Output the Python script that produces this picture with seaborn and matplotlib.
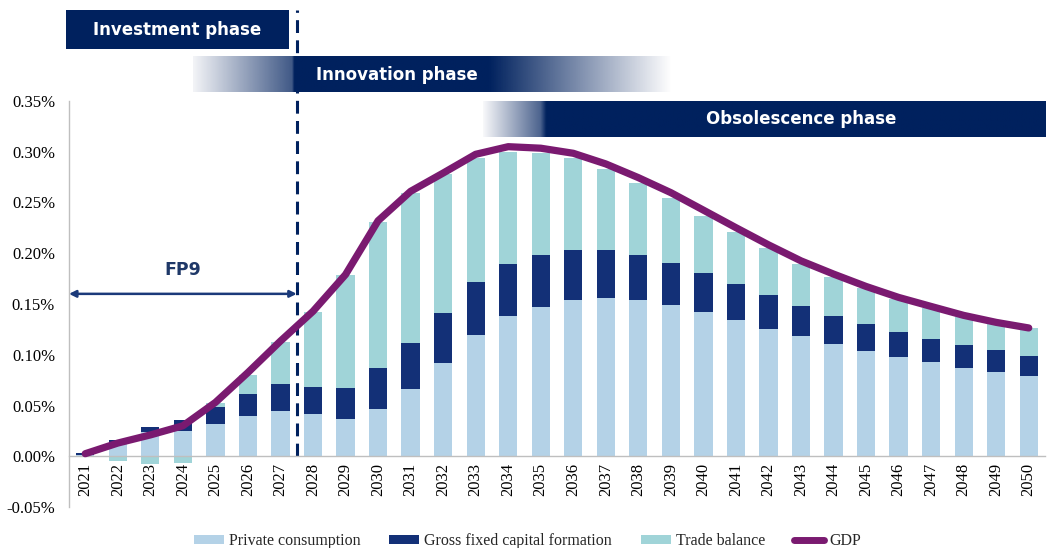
import numpy as np
import pandas as pd
import matplotlib
matplotlib.use("Agg")
import matplotlib.pyplot as plt
import seaborn as sns
from matplotlib.patches import Patch, Rectangle
from matplotlib.lines import Line2D
from matplotlib.ticker import FuncFormatter

# ---------------- data (percent of GDP) ----------------
years = list(range(2021, 2051))
private_consumption = [0.0015, 0.0130, 0.0239, 0.0250, 0.0316, 0.0393, 0.0443, 0.0415, 0.0370, 0.0465,
                       0.0660, 0.0923, 0.1195, 0.1378, 0.1473, 0.1536, 0.1560, 0.1540, 0.1493, 0.1421,
                       0.1339, 0.1257, 0.1182, 0.1107, 0.1041, 0.0975, 0.0926, 0.0871, 0.0828, 0.0789]
gross_fixed_capital_formation = [0.0020, 0.0035, 0.0048, 0.0108, 0.0169, 0.0217, 0.0272, 0.0263, 0.0305, 0.0405,
                                 0.0460, 0.0492, 0.0521, 0.0518, 0.0505, 0.0494, 0.0470, 0.0447, 0.0407, 0.0386,
                                 0.0357, 0.0331, 0.0301, 0.0278, 0.0262, 0.0253, 0.0233, 0.0226, 0.0217, 0.0203]
trade_balance = [0.0000, -0.0046, -0.0075, -0.0068, 0.0035, 0.0195, 0.0410, 0.0742, 0.1115, 0.1440,
                 0.1476, 0.1362, 0.1224, 0.1104, 0.1012, 0.0910, 0.0796, 0.0708, 0.0647, 0.0560,
                 0.0514, 0.0468, 0.0416, 0.0383, 0.0350, 0.0321, 0.0301, 0.0278, 0.0258, 0.0272]
gdp = [0.0025, 0.0130, 0.0210, 0.0300, 0.0530, 0.0825, 0.1135, 0.1428, 0.1790, 0.2320,
       0.2610, 0.2790, 0.2975, 0.3050, 0.3035, 0.2985, 0.2880, 0.2745, 0.2597, 0.2425,
       0.2252, 0.2083, 0.1925, 0.1795, 0.1673, 0.1565, 0.1476, 0.1388, 0.1319, 0.1264]

series_labels = ["Private consumption", "Gross fixed capital formation", "Trade balance", "GDP"]
phase_labels = ["Investment phase", "Innovation phase", "Obsolescence phase"]
fp9_label = "FP9"
fp9_end_year = 2027.5
fp9_level = 0.16
y_ticks = [-0.05, 0.00, 0.05, 0.10, 0.15, 0.20, 0.25, 0.30, 0.35]

# ---------------- style ----------------
c_light = "#B4D2E7"
c_dark = "#133077"
c_teal = "#A0D4D8"
c_gdp = "#7A1A70"
c_navy = "#00215E"
c_arrow = "#1B3A7A"

sns.set_style("white")
plt.rcParams["font.family"] = ["Liberation Serif", "DejaVu Serif"]

fig = plt.figure(figsize=(10.5, 5.48), dpi=100)
ax = fig.add_axes([69 / 1050, 1 - 507 / 548, 976 / 1050, 406 / 548])

pc = np.array(private_consumption)
gf = np.array(gross_fixed_capital_formation)
tb = np.array(trade_balance)
df = pd.DataFrame({
    "year": years,
    "top_tb": np.where(tb >= 0, pc + gf + tb, tb),
    "top_gf": pc + gf,
    "top_pc": pc,
    "gdp": gdp,
})

for col, color in [("top_tb", c_teal), ("top_gf", c_dark), ("top_pc", c_light)]:
    sns.barplot(data=df, x="year", y=col, color=color, native_scale=True, width=0.56,
                saturation=1, errorbar=None, linewidth=0, ax=ax, zorder=2)

sns.lineplot(data=df, x="year", y="gdp", color=c_gdp, linewidth=5.2, ax=ax,
             solid_capstyle="round", zorder=4)

ax.set_xlim(2020.5, 2050.5)
ax.set_ylim(-0.05, 0.35)
ax.set_xticks(years)
ax.set_xticklabels([str(y) for y in years])
ax.set_yticks(y_ticks)
ax.yaxis.set_major_formatter(FuncFormatter(lambda v, p: f"{v:.2f}%"))
ax.set_xlabel("")
ax.set_ylabel("")
ax.tick_params(axis="x", length=0, pad=5, labelrotation=90, labelsize=12, colors="#000000")
ax.tick_params(axis="y", length=0, pad=10, labelsize=12, colors="#000000")
for s in ["top", "right"]:
    ax.spines[s].set_visible(False)
ax.spines["bottom"].set_position(("data", 0))
ax.spines["bottom"].set_color("#BFBFBF")
ax.spines["bottom"].set_linewidth(1.0)
ax.spines["bottom"].set_zorder(3)
ax.spines["left"].set_color("#BFBFBF")
ax.spines["left"].set_linewidth(1.0)
ax.grid(False)

# dashed divider (end of FP9)
ax.plot([fp9_end_year, fp9_end_year], [0, 0.4397], color=c_navy, lw=2.2,
        ls=(0, (4.2, 2.4)), clip_on=False, zorder=3)

# FP9 arrow
ax.annotate("", xy=(2020.5, fp9_level), xytext=(fp9_end_year, fp9_level),
            arrowprops=dict(arrowstyle="<|-|>", color=c_arrow, lw=1.8, mutation_scale=10,
                            shrinkA=0, shrinkB=0), zorder=5)
ax.text((2020.5 + fp9_end_year) / 2, 0.1835, fp9_label, ha="center", va="center",
        fontsize=12.5, fontweight="bold", color="#1F3868", family=["DejaVu Sans"])

# legend
handles = [Patch(facecolor=c_light, edgecolor="none"),
           Patch(facecolor=c_dark, edgecolor="none"),
           Patch(facecolor=c_teal, edgecolor="none"),
           Line2D([0], [0], color=c_gdp, lw=5, solid_capstyle="round")]
fig.legend(handles, series_labels, loc="center", bbox_to_anchor=(0.502, 0.013), ncol=4,
           frameon=False, fontsize=11.5, handlelength=1.9, handleheight=0.5,
           handletextpad=0.3, columnspacing=1.8)

# ---------------- phase banners (overlay in pixel coords) ----------------
ov = fig.add_axes([0, 0, 1, 1], zorder=10)
ov.set_xlim(0, 1050)
ov.set_ylim(548, 0)
ov.axis("off")
ov.patch.set_alpha(0)

navy_rgb = np.array(matplotlib.colors.to_rgb(c_navy))


def band(x0, x1, y0, y1, knots, alphas):
    xs = np.linspace(x0, x1, 800)
    a = np.interp(xs, knots, alphas)
    img = np.zeros((1, xs.size, 4))
    img[0, :, :3] = navy_rgb
    img[0, :, 3] = a
    ov.imshow(img, extent=(x0, x1, y1, y0), aspect="auto", interpolation="bilinear", zorder=1)


ov.add_patch(Rectangle((66, 10), 223, 39, facecolor=c_navy, edgecolor="none", zorder=1))
ov.text(177.5, 30, phase_labels[0], color="white", fontsize=12, fontweight="bold",
        ha="center", va="center", family=["DejaVu Sans"], zorder=2)

band(193, 672, 56, 92, [193, 292, 294, 490, 672], [0.05, 0.75, 1.0, 1.0, 0.0])
ov.text(397, 74.5, phase_labels[1], color="white", fontsize=12, fontweight="bold",
        ha="center", va="center", family=["DejaVu Sans"], zorder=2)

band(483, 1046, 101, 137, [483, 540, 546, 1046], [0.03, 0.7, 1.0, 1.0])
ov.text(801, 119.5, phase_labels[2], color="white", fontsize=12, fontweight="bold",
        ha="center", va="center", family=["DejaVu Sans"], zorder=2)
ov.set_xlim(0, 1050)
ov.set_ylim(548, 0)

fig.savefig("out.png", dpi=100)
